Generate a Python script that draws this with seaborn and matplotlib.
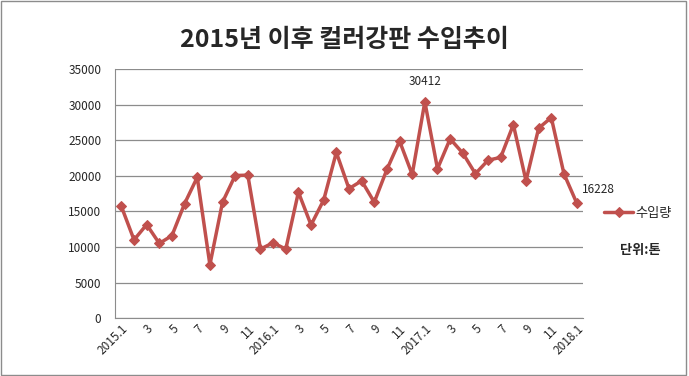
import seaborn as sns
import matplotlib.pyplot as plt
import pandas as pd
import numpy as np

# monthly import volume (ton), 2015.1 ~ 2018.1
months = [f"{y}.{m}" for y in (2015, 2016, 2017) for m in range(1, 13)] + ["2018.1"]
imports = [15700, 11000, 13150, 10500, 11600, 16100, 19800, 7500, 16300, 20050, 20100, 9700,
           10600, 9700, 17700, 13100, 16600, 23300, 18200, 19300, 16300, 20900, 24900, 20200,
           30412, 21000, 25200, 23200, 20300, 22200, 22600, 27200, 19300, 26700, 28200, 20300,
           16228]
tick_labels = ["2015.1", "3", "5", "7", "9", "11", "2016.1", "3", "5", "7", "9", "11",
               "2017.1", "3", "5", "7", "9", "11", "2018.1"]

df = pd.DataFrame({"idx": np.arange(len(months)), "month": months, "수입량": imports})

sns.set_style("white")
plt.rcParams['font.family'] = ['Noto Sans CJK KR', 'DejaVu Sans']

color = "#C0504D"
fig = plt.figure(figsize=(6.89, 3.76), dpi=100)
ax = fig.add_axes([0.167, 0.154, 0.679, 0.662])

sns.lineplot(data=df, x="idx", y="수입량", ax=ax, color=color, linewidth=2.5,
             marker="D", markersize=5, markeredgecolor=color, label="수입량")

ax.set_ylim(0, 35000)
ax.set_yticks(range(0, 35001, 5000))
ax.set_xlim(-0.5, len(months) - 0.5)
ax.set_xticks(df["idx"][::2])
ax.set_xticklabels(tick_labels, rotation=45, ha="right", rotation_mode="anchor", fontsize=8.5)
ax.tick_params(axis="y", labelsize=8.5, length=0, pad=10)
ax.tick_params(axis="x", length=0, pad=3)
ax.set_xlabel("")
ax.set_ylabel("")
ax.yaxis.grid(True, color="#8c8c8c", linewidth=0.9)
for s in ["top", "right"]:
    ax.spines[s].set_visible(False)
for s in ["left", "bottom"]:
    ax.spines[s].set_color("#8c8c8c")

# data labels
i_max = int(np.argmax(imports))
ax.annotate(f"{imports[i_max]}", (i_max, imports[i_max]), xytext=(0, 10),
            textcoords="offset points", ha="center", va="bottom", fontsize=8.5)
ax.annotate(f"{imports[-1]}", (len(imports) - 1, imports[-1]), xytext=(4, 5),
            textcoords="offset points", ha="left", va="bottom", fontsize=8.5)

ax.legend(loc="center left", bbox_to_anchor=(1.02, 0.42), frameon=False,
          fontsize=9.5, handlelength=2.2, handletextpad=0.2)
fig.text(0.93, 0.335, "단위:톤", ha="center", va="center", fontsize=9.5, fontweight="bold")

fig.suptitle("2015년 이후 컬러강판 수입추이", x=0.5, y=0.925, fontsize=18, fontweight="bold")

# chart area border
fig.patches.append(plt.Rectangle((0.002, 0.003), 0.994, 0.994, transform=fig.transFigure,
                                 fill=False, edgecolor="#8c8c8c", linewidth=1))

fig.savefig("out.png", dpi=100)
